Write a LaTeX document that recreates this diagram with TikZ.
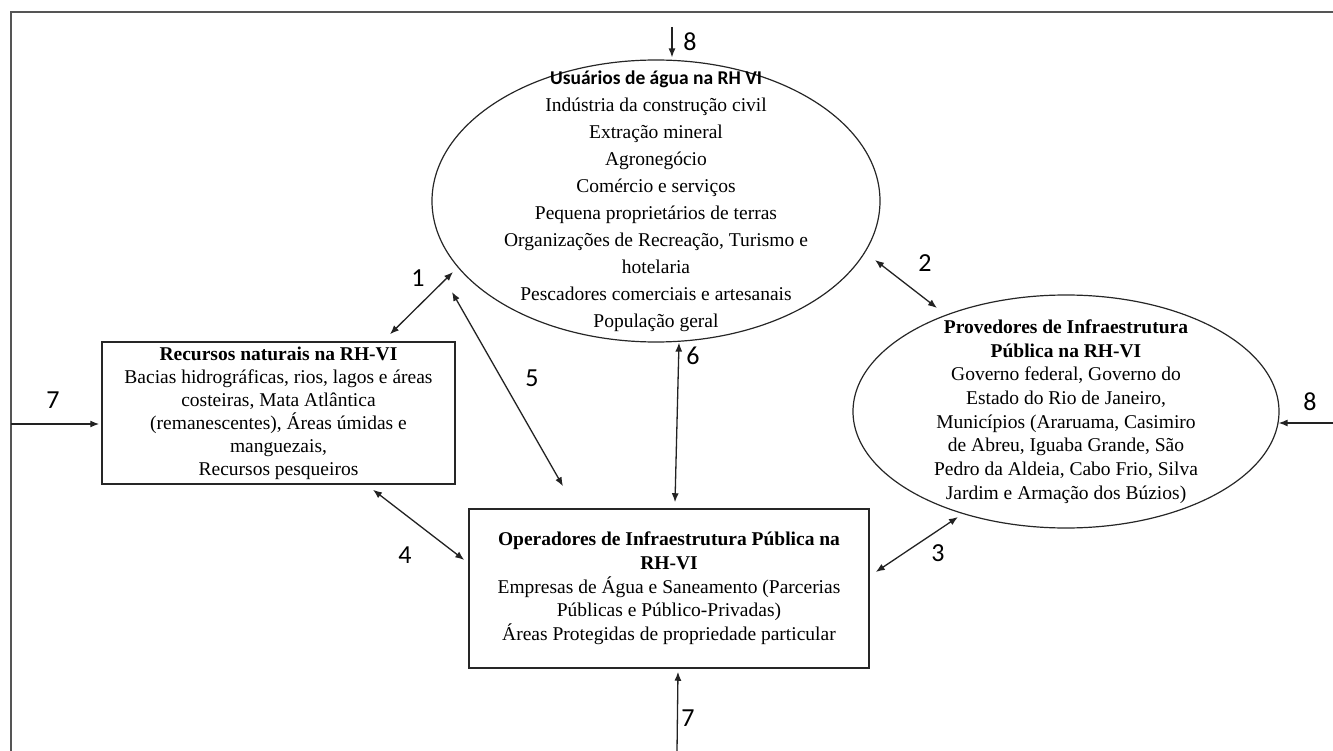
\documentclass[tikz,border=0pt]{standalone}
\usepackage{fontspec}
\setmainfont{Liberation Serif}
\newfontfamily\calib{Carlito}
\usetikzlibrary{shapes.geometric,arrows.meta}
\definecolor{framegray}{HTML}{555555}
\definecolor{linkgray}{HTML}{222222}

\tikzset{
  >={Latex[length=9pt,width=7pt]},
  actorell/.style={ellipse, draw=black!85, line width=1.2pt, inner sep=0pt},
  actorbox/.style={rectangle, draw=black!85, line width=1.5pt, align=center, inner sep=1pt},
  bodytext/.style={align=center, inner sep=0pt},
  link/.style={draw=linkgray, line width=1.3pt},
  flownum/.style={font={\calib\fontsize{26}{26}\selectfont}, inner sep=0pt},
}

\begin{document}
\begin{tikzpicture}[x=1pt, y=-1pt]
  \useasboundingbox (0,0) rectangle (1333,751);
  % outer frame, runs off the page at right and bottom
  \draw[framegray, line width=2pt] (11,751) -- (11,12) -- (1333,12);

  % water users: the big ellipse, text set apart so it may touch the border
  \node[actorell, minimum width=448, minimum height=282] (usr) at (656,201) {};
  \node[bodytext, font={\fontsize{19.5}{27}\selectfont}] (usrtxt) at (usr.center) {%
    {\calib\bfseries Usuários de água na RH VI}\\
    Indústria da construção civil\\
    Extração mineral\\
    Agronegócio\\
    Comércio e serviços\\
    Pequena proprietários de terras\\
    Organizações de Recreação, Turismo e\\
    hotelaria\\
    Pescadores comerciais e artesanais\\
    População geral};

  % infrastructure providers
  \node[actorell, minimum width=426, minimum height=233] (prov) at (1066,411.5) {};
  \node[bodytext, font={\fontsize{19.5}{23.7}\selectfont}] (provtxt) at (prov.center) {%
    \textbf{Provedores de Infraestrutura}\\
    \textbf{Pública na RH-VI}\\
    Governo federal, Governo do\\
    Estado do Rio de Janeiro,\\
    Municípios (Araruama, Casimiro\\
    de Abreu, Iguaba Grande, São\\
    Pedro da Aldeia, Cabo Frio, Silva\\
    Jardim e Armação dos Búzios)};

  % natural resources
  \node[actorbox, minimum width=353, minimum height=142,
        font={\fontsize{19.5}{23}\selectfont}] (res) at (278.5,413) {%
    \textbf{Recursos naturais na RH-VI}\\
    Bacias hidrográficas, rios, lagos e áreas\\
    costeiras, Mata Atlântica\\
    (remanescentes), Áreas úmidas e\\
    manguezais,\\
    Recursos pesqueiros};

  % infrastructure operators
  \node[actorbox, minimum width=400, minimum height=159,
        font={\fontsize{19.5}{23.7}\selectfont}] (ops) at (669,588.5) {%
    \textbf{Operadores de Infraestrutura Pública na}\\
    \textbf{RH-VI}\\
    Empresas de Água e Saneamento (Parcerias\\
    Públicas e Público-Privadas)\\
    Áreas Protegidas de propriedade particular};

  % free ends of the outside inputs
  \coordinate (in8top) at (672,27);
  \coordinate (in7left) at (11,424);
  \coordinate (in8right) at (1333,423);
  \coordinate (in7bot) at (677,751);

  % two-way links between actors
  \draw[link, <->] ([shift={(111.5,-7)}]res.north) -- ([shift={(-203,71)}]usr.center);
  \draw[link, <->] ([shift={(-204,91)}]usr.center) -- ([shift={(-106,-22)}]ops.north);
  \draw[link, <->] ([shift={(23,0)}]usr.south) -- ([shift={(6,-6)}]ops.north);
  \draw[link, <->] ([shift={(219,59)}]usr.center) -- ([shift={(-129,-103.5)}]prov.center);
  \draw[link, <->] ([shift={(-108,105.5)}]prov.center) -- ([shift={(6,-16.5)}]ops.east);
  \draw[link, <->] ([shift={(94.5,5)}]res.south) -- ([shift={(-4,-28.5)}]ops.west);

  % one-way inputs from outside
  \draw[link, ->] (in8top) -- ([shift={(16,-2)}]usr.north);
  \draw[link, ->] (in7left) -- ([shift={(-2,11)}]res.west);
  \draw[link, ->] (in8right) -- ([shift={(-1,11.5)}]prov.east);
  \draw[link, ->] (in7bot) -- ([shift={(9,3)}]ops.south);

  % flow numbers
  \node[flownum] (n1) at (418,278) {1};
  \node[flownum] (n2) at (925,263) {2};
  \node[flownum] (n3) at (938,553) {3};
  \node[flownum] (n4) at (405,555) {4};
  \node[flownum] (n5) at (532,378) {5};
  \node[flownum] (n6) at (693,356) {6};
  \node[flownum] (n7l) at (53,400) {7};
  \node[flownum] (n7b) at (688,718) {7};
  \node[flownum] (n8t) at (690,42) {8};
  \node[flownum] (n8r) at (1310,402) {8};
\end{tikzpicture}
\end{document}
